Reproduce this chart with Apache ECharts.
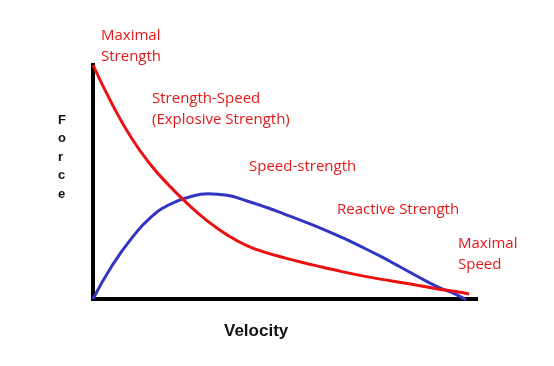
<!DOCTYPE html>
<html>
<head>
<meta charset="utf-8">
<script src="https://cdn.jsdelivr.net/npm/echarts@6/dist/echarts.min.js"></script>
<style>html,body{margin:0;padding:0;background:#fff;}#c{width:554px;height:366px;}</style>
</head>
<body>
<div id="c"></div>
<script>
// Velocity positions
var velocity = [0,5,10,15,20,25,30,35,40,45,50,55,60,65,70,75,80,85,90,95];
// Force (red) curve values
var forceValues = [100,83.3,68.9,57.5,48.3,40.2,33.2,27.4,22.9,19.9,17.6,15.5,13.6,11.7,10.0,8.5,7.2,5.8,4.3,3.1];
var forceEnd = [98.2, 2.1];
// Power (blue) curve values
var powerValues = [0,14.3,25.8,34.8,40.4,43.5,45.0,44.3,42.0,39.3,36.3,33.2,29.9,26.3,22.4,18.3,13.9,9.4,5.2,1.8];
var powerEnd = [97.4, -0.3];
// Annotation labels
var labels = [
  {text: 'Maximal\nStrength', x: 101, y: 33},
  {text: 'Strength-Speed\n(Explosive Strength)', x: 152, y: 96},
  {text: 'Speed-strength', x: 249, y: 164},
  {text: 'Reactive Strength', x: 337, y: 207},
  {text: 'Maximal\nSpeed', x: 458, y: 241}
];
var xTitle = 'Velocity';
var yTitle = 'F\no\nr\nc\ne';

var forceCurve = velocity.map(function(v,i){return [v, forceValues[i]];}).concat([forceEnd]);
var powerCurve = velocity.map(function(v,i){return [v, powerValues[i]];}).concat([powerEnd]);

var chart = echarts.init(document.getElementById('c'));
var textColor = '#e2191b';
var graphics = labels.map(function(l){
  return {type:'text', left:l.x, top:l.y - 8, style:{text:l.text, fill:textColor, font:'15px "Open Sans"', lineHeight:21}};
});
graphics.push({type:'text', left:58, top:111, style:{text:yTitle, fill:'#111', font:'bold 13px "Liberation Sans"', lineHeight:18.5, align:'left'}});
graphics.push({type:'text', left:224, top:323, style:{text:xTitle, fill:'#111', font:'bold 17px "Liberation Sans"'}});

chart.setOption({
  animation:false,
  backgroundColor:'#fff',
  grid:{left:93, right:78, top:65, bottom:67},
  xAxis:{type:'value', min:0, max:100, axisLine:{show:true, onZero:false, lineStyle:{color:'#000', width:4, cap:'square'}}, axisTick:{show:false}, axisLabel:{show:false}, splitLine:{show:false}},
  yAxis:{type:'value', min:0, max:100, axisLine:{show:true, onZero:false, lineStyle:{color:'#000', width:4, cap:'square'}}, axisTick:{show:false}, axisLabel:{show:false}, splitLine:{show:false}},
  graphic: graphics,
  series:[
    {type:'line', data:powerCurve, smooth:0.5, showSymbol:false, clip:false, lineStyle:{color:'#3434c4', width:3}, z:3},
    {type:'line', data:forceCurve, smooth:0.5, showSymbol:false, clip:false, lineStyle:{color:'#ec1111', width:3}, z:4}
  ]
});
</script>
</body>
</html>
